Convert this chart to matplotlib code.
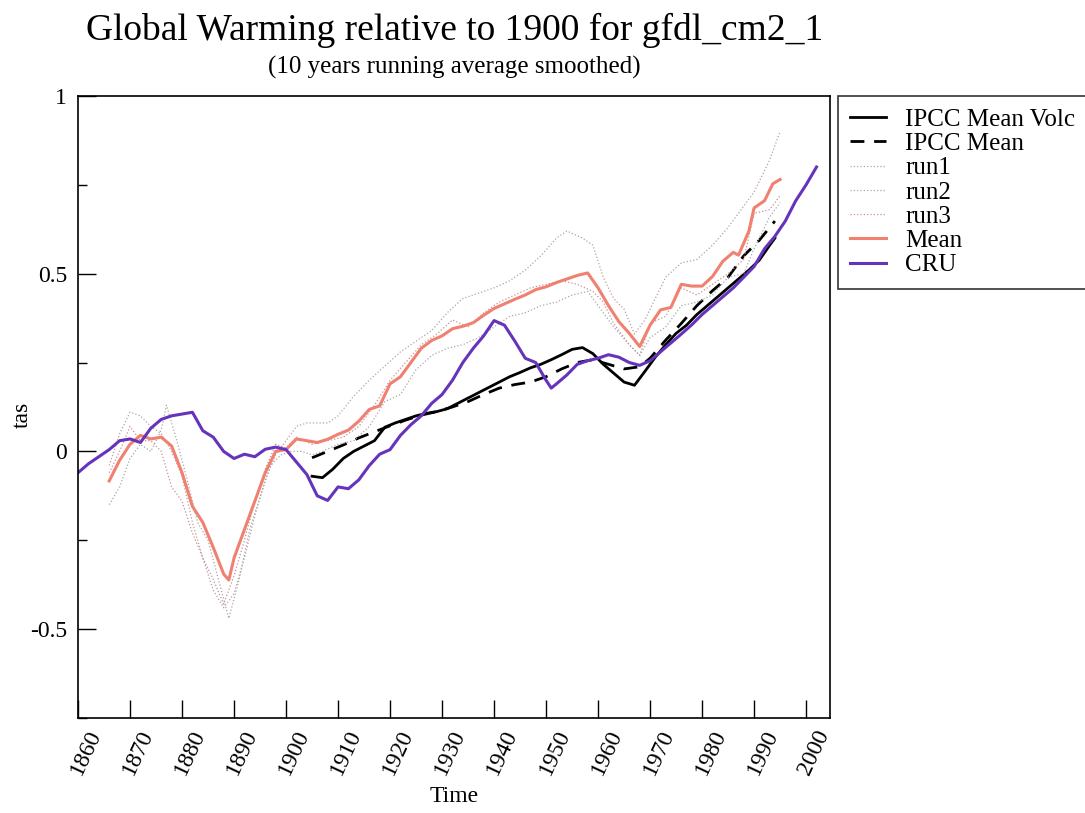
import matplotlib
matplotlib.use("Agg")
import matplotlib.pyplot as plt
import matplotlib.transforms as mtransforms
from matplotlib.ticker import MultipleLocator

plt.rcParams['font.family'] = ['Liberation Serif', 'DejaVu Serif']

# CRU observations
cru_years = [1860, 1862, 1864, 1866, 1868, 1870, 1872, 1874, 1876, 1878, 1880, 1882,
             1884, 1886, 1888, 1890, 1892, 1894, 1896, 1898, 1900, 1902, 1904, 1906,
             1908, 1910, 1912, 1914, 1916, 1918, 1920, 1922, 1924, 1926, 1928, 1930,
             1932, 1934, 1936, 1938, 1940, 1942, 1944, 1946, 1948, 1950, 1951, 1952,
             1954, 1956, 1958, 1960, 1962, 1964, 1966, 1968, 1970, 1972, 1974, 1976,
             1978, 1980, 1982, 1984, 1986, 1988, 1990, 1992, 1994, 1996, 1998, 2000, 2002]
cru_vals = [-0.06, -0.035, -0.015, 0.005, 0.03, 0.035, 0.025, 0.065, 0.09, 0.1, 0.105, 0.11,
            0.058, 0.04, 0.0, -0.02, -0.008, -0.015, 0.006, 0.012, 0.005, -0.03, -0.065, -0.125,
            -0.138, -0.1, -0.105, -0.08, -0.04, -0.008, 0.005, 0.045, 0.075, 0.1, 0.135, 0.16,
            0.2, 0.25, 0.29, 0.325, 0.368, 0.355, 0.31, 0.262, 0.25, 0.2, 0.178, 0.19,
            0.215, 0.245, 0.255, 0.262, 0.272, 0.265, 0.25, 0.242, 0.255, 0.28, 0.305, 0.33,
            0.356, 0.385, 0.41, 0.435, 0.46, 0.49, 0.52, 0.57, 0.605, 0.648, 0.705, 0.75, 0.8]

# model ensemble mean
mean_years = [1866, 1868, 1870, 1872, 1874, 1876, 1878, 1880, 1882, 1884, 1886, 1888, 1889,
              1890, 1892, 1894, 1896, 1898, 1900, 1902, 1904, 1906, 1908, 1910, 1912, 1914,
              1916, 1918, 1920, 1922, 1924, 1926, 1928, 1930, 1932, 1934, 1936, 1938, 1940,
              1942, 1944, 1946, 1948, 1950, 1952, 1954, 1956, 1958, 1960, 1962, 1964, 1966,
              1968, 1970, 1972, 1974, 1976, 1978, 1980, 1982, 1984, 1986, 1987, 1989, 1990,
              1992, 1993.6, 1995]
mean_vals = [-0.083, -0.025, 0.02, 0.045, 0.035, 0.04, 0.015, -0.06, -0.155, -0.2, -0.27, -0.345, -0.362,
             -0.3, -0.22, -0.14, -0.06, 0.0, 0.005, 0.035, 0.03, 0.025, 0.034, 0.048, 0.06, 0.085,
             0.118, 0.128, 0.19, 0.21, 0.25, 0.29, 0.312, 0.325, 0.345, 0.352, 0.362, 0.383, 0.402,
             0.415, 0.428, 0.44, 0.455, 0.463, 0.475, 0.485, 0.495, 0.502, 0.46, 0.41, 0.365, 0.332,
             0.295, 0.355, 0.398, 0.405, 0.47, 0.465, 0.465, 0.492, 0.535, 0.56, 0.552, 0.62, 0.685,
             0.705, 0.753, 0.765]

# individual runs
run1_years = [1866, 1868, 1870, 1872, 1874, 1876, 1878, 1880, 1882, 1884, 1886, 1888, 1890,
              1892, 1894, 1896, 1898, 1900, 1902, 1904, 1906, 1908, 1910, 1913, 1916, 1919,
              1922, 1925, 1928, 1931, 1934, 1937, 1940, 1943, 1946, 1949, 1952, 1954, 1957,
              1959, 1961, 1963, 1965, 1967, 1969, 1971, 1973, 1976, 1979, 1982, 1985, 1988,
              1990, 1993, 1995]
run1_vals = [-0.04, 0.05, 0.11, 0.1, 0.07, 0.05, 0.0, -0.07, -0.2, -0.3, -0.39, -0.44, -0.4,
             -0.3, -0.18, -0.08, -0.01, 0.03, 0.07, 0.08, 0.08, 0.08, 0.1, 0.155, 0.2, 0.24,
             0.28, 0.31, 0.34, 0.39, 0.43, 0.445, 0.46, 0.48, 0.51, 0.55, 0.6, 0.62, 0.6,
             0.58, 0.49, 0.43, 0.4, 0.33, 0.37, 0.43, 0.49, 0.53, 0.54, 0.58, 0.63, 0.69,
             0.73, 0.82, 0.9]

run2_years = [1866, 1868, 1870, 1872, 1874, 1876, 1877, 1879, 1881, 1883, 1885, 1887, 1889,
              1891, 1893, 1895, 1897, 1899, 1901, 1903, 1905, 1907, 1910, 1913, 1916, 1919,
              1922, 1925, 1928, 1931, 1934, 1937, 1940, 1943, 1946, 1949, 1952, 1955, 1958,
              1960, 1963, 1966, 1968, 1970, 1973, 1976, 1979, 1982, 1985, 1988, 1990, 1993, 1995]
run2_vals = [-0.15, -0.1, -0.02, 0.02, 0.0, 0.06, 0.13, 0.03, -0.08, -0.2, -0.25, -0.36, -0.47,
             -0.36, -0.22, -0.13, -0.04, -0.01, 0.0, 0.0, -0.01, 0.0, 0.02, 0.03, 0.07, 0.14,
             0.16, 0.23, 0.27, 0.29, 0.3, 0.32, 0.35, 0.38, 0.39, 0.41, 0.42, 0.44, 0.45,
             0.41, 0.35, 0.3, 0.27, 0.32, 0.35, 0.41, 0.42, 0.44, 0.49, 0.5, 0.57, 0.66, 0.7]

run3_years = [1866, 1868, 1870, 1872, 1874, 1876, 1878, 1880, 1882, 1884, 1886, 1888, 1890,
              1892, 1894, 1896, 1898, 1900, 1902, 1905, 1908, 1911, 1914, 1917, 1920, 1923,
              1926, 1929, 1932, 1935, 1938, 1941, 1944, 1947, 1950, 1953, 1956, 1959, 1961,
              1963, 1966, 1968, 1970, 1973, 1976, 1979, 1982, 1985, 1988, 1990, 1993, 1995]
run3_vals = [-0.06, 0.0, 0.07, 0.03, 0.03, 0.0, -0.1, -0.14, -0.23, -0.3, -0.36, -0.43, -0.35,
             -0.25, -0.14, -0.05, 0.02, 0.01, 0.04, 0.02, 0.03, 0.04, 0.07, 0.13, 0.2, 0.25,
             0.3, 0.33, 0.37, 0.35, 0.39, 0.42, 0.44, 0.46, 0.47, 0.48, 0.47, 0.45, 0.42,
             0.36, 0.3, 0.27, 0.36, 0.38, 0.46, 0.44, 0.47, 0.5, 0.54, 0.67, 0.68, 0.72]

# IPCC means
volc_years = [1905, 1907, 1909, 1911, 1913, 1915, 1917, 1919, 1921, 1923, 1925, 1927, 1929,
              1931, 1933, 1935, 1937, 1939, 1941, 1943, 1945, 1947, 1949, 1951, 1953, 1955,
              1957, 1959, 1961, 1963, 1965, 1967, 1969, 1971, 1973, 1975, 1977, 1979, 1981,
              1983, 1985, 1987, 1989, 1991, 1993, 1994]
volc_vals = [-0.07, -0.074, -0.05, -0.02, 0.0, 0.015, 0.03, 0.068, 0.08, 0.09, 0.1, 0.107, 0.112,
             0.12, 0.135, 0.15, 0.165, 0.18, 0.195, 0.21, 0.222, 0.235, 0.245, 0.258, 0.272, 0.287,
             0.292, 0.275, 0.245, 0.22, 0.195, 0.186, 0.225, 0.265, 0.3, 0.332, 0.355, 0.385, 0.41,
             0.435, 0.46, 0.485, 0.51, 0.538, 0.58, 0.6]

ipcc_years = [1905, 1908, 1911, 1914, 1917, 1920, 1923, 1926, 1929, 1932, 1935, 1938, 1941,
              1944, 1947, 1950, 1953, 1956, 1959, 1962, 1965, 1968, 1970, 1973, 1976, 1979,
              1982, 1985, 1988, 1991, 1994]
ipcc_vals = [-0.018, 0.0, 0.018, 0.038, 0.055, 0.072, 0.088, 0.102, 0.112, 0.125, 0.14, 0.16, 0.178,
             0.188, 0.195, 0.21, 0.232, 0.25, 0.258, 0.245, 0.232, 0.238, 0.262, 0.313, 0.36, 0.41,
             0.452, 0.49, 0.55, 0.594, 0.648]

fig = plt.figure(figsize=(10.85, 8.13), dpi=100)
ax = fig.add_axes([0.0719, 0.1169, 0.6931, 0.7651])

ax.plot(volc_years, volc_vals, color='black', lw=2.0, label='IPCC Mean Volc')
ax.plot(ipcc_years, ipcc_vals, color='black', lw=2.0, dashes=(5, 3.5), label='IPCC Mean')
ax.plot(run1_years, run1_vals, color='#b9a0a0', lw=0.9, ls=':', label='run1')
ax.plot(run2_years, run2_vals, color='#a8a8a8', lw=0.9, ls=':', label='run2')
ax.plot(run3_years, run3_vals, color='#c89090', lw=0.9, ls=':', label='run3')
ax.plot(mean_years, mean_vals, color='#f08070', lw=2.2, label='Mean')
ax.plot(cru_years, cru_vals, color='#6633bb', lw=2.2, label='CRU')

ax.set_xlim(1860, 2004.6)
ax.set_ylim(-0.75, 1.0)
ax.set_xticks(range(1860, 2001, 10))
ax.set_yticks([-0.5, 0, 0.5, 1])
ax.set_yticklabels(['-0.5', '0', '0.5', '1'])
ax.yaxis.set_minor_locator(MultipleLocator(0.25))
ax.tick_params(axis='both', which='major', direction='in', length=13, width=1,
               labelsize=17, top=False, right=False)
ax.tick_params(axis='y', which='minor', direction='in', length=6.5, width=1, right=False)
ax.tick_params(axis='y', which='major', pad=8)
ax.tick_params(axis='x', which='major', pad=6)
for sp in ax.spines.values():
    sp.set_linewidth(1.2)

offset = mtransforms.ScaledTranslation(6 / 72, 0, fig.dpi_scale_trans)
for lab in ax.get_xticklabels():
    lab.set_rotation(65)
    lab.set_ha('center')
    lab.set_va('top')
    lab.set_transform(lab.get_transform() + offset)

fig.text(0.4186, 0.962, 'Global Warming relative to 1900 for gfdl_cm2_1',
         ha='center', va='center', fontsize=27)
fig.text(0.4186, 0.917, '(10 years running average smoothed)',
         ha='center', va='center', fontsize=18)
fig.text(0.4186, 0.02, 'Time', ha='center', va='center', fontsize=17)
fig.text(0.021, 0.49, 'tas', ha='center', va='center', rotation=90, fontsize=17)

leg = ax.legend(loc='upper left', bbox_to_anchor=(0.772, 0.882),
                bbox_transform=fig.transFigure, borderaxespad=0, fontsize=18,
                frameon=True, fancybox=False, edgecolor='black', handlelength=1.45,
                labelspacing=0.07, borderpad=0.5, handletextpad=0.75)
leg.get_frame().set_linewidth(1.2)

fig.savefig('out.png', dpi=100)
